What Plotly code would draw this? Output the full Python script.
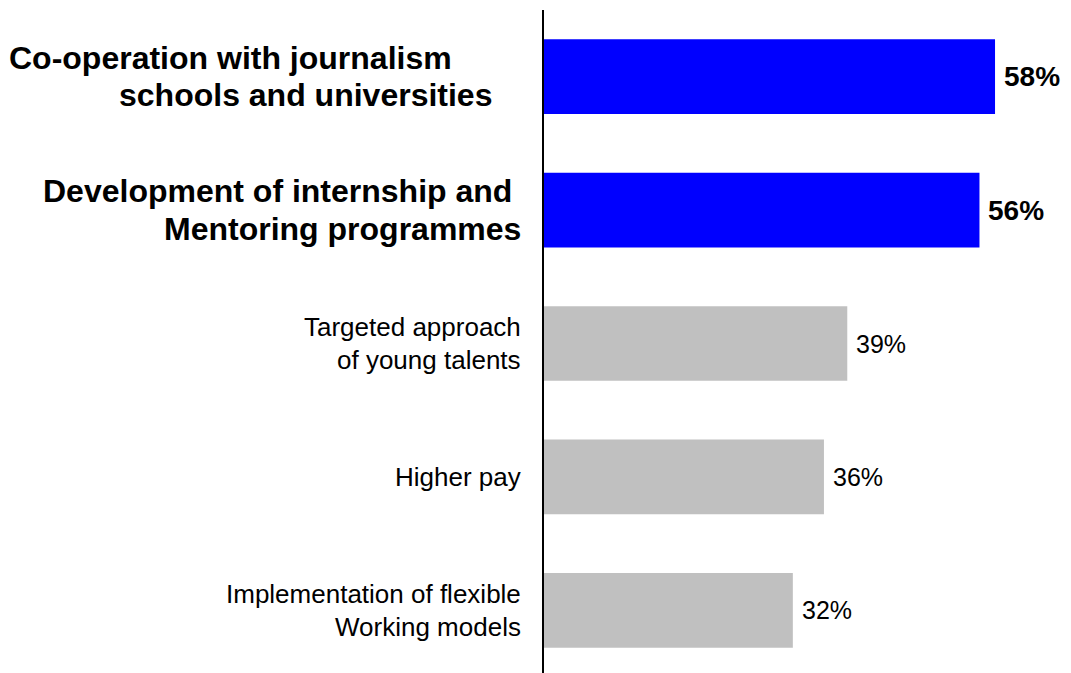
import plotly.graph_objects as go

# Survey answers, top to bottom (one entry per text line of each label)
label_lines = [
    ["Co-operation with journalism", "schools and universities"],
    ["Development of internship and", "Mentoring programmes"],
    ["Targeted approach", "of young talents"],
    ["Higher pay"],
    ["Implementation of flexible", "Working models"],
]
values = [58, 56, 39, 36, 32]
highlight = [True, True, False, False, False]

BLUE = "#0000FF"
GREY = "#C0C0C0"
FONT = "Liberation Sans, Arial, sans-serif"

# Text layout: right-edge offset (px, left of the axis) for each label line
line_offsets = [[-90, -50], [-30, -21], [-21, -21], [-21], [-21, -21]]
BOLD_SIZE, BOLD_GAP = 32, 37.5
REG_SIZE, REG_GAP = 26, 33

positions = list(range(len(values)))
colors = [BLUE if h else GREY for h in highlight]

fig = go.Figure(
    go.Bar(
        x=values,
        y=positions,
        orientation="h",
        marker=dict(color=colors, line=dict(width=0)),
        width=0.56,
        hoverinfo="skip",
    )
)

annotations = []
for i, (lines, val, hl) in enumerate(zip(label_lines, values, highlight)):
    size = BOLD_SIZE if hl else REG_SIZE
    gap = BOLD_GAP if hl else REG_GAP
    n = len(lines)
    for k, ln in enumerate(lines):
        annotations.append(
            dict(
                x=0, y=i, xref="x", yref="y",
                xanchor="right", yanchor="middle",
                xshift=line_offsets[i][k],
                yshift=-(k - (n - 1) / 2) * gap,
                text=f"<b>{ln}</b>" if hl else ln,
                showarrow=False,
                font=dict(family=FONT, size=size, color="black"),
            )
        )
    annotations.append(
        dict(
            x=val, y=i, xref="x", yref="y",
            xanchor="left", yanchor="middle",
            xshift=7,
            text=f"<b>{val}%</b>" if hl else f"{val}%",
            showarrow=False,
            font=dict(family=FONT, size=28 if hl else 25, color="black"),
        )
    )

fig.update_layout(
    width=1071,
    height=673,
    margin=dict(l=544, r=0, t=10, b=0),
    paper_bgcolor="white",
    plot_bgcolor="white",
    showlegend=False,
    annotations=annotations,
    xaxis=dict(range=[0, 67.77], visible=False, fixedrange=True),
    yaxis=dict(
        range=[4.47, -0.5],
        showticklabels=False,
        showgrid=False,
        zeroline=False,
        showline=True,
        linecolor="black",
        linewidth=2,
        ticks="",
        fixedrange=True,
    ),
)

fig.write_html("out.html", config={"displayModeBar": False})
